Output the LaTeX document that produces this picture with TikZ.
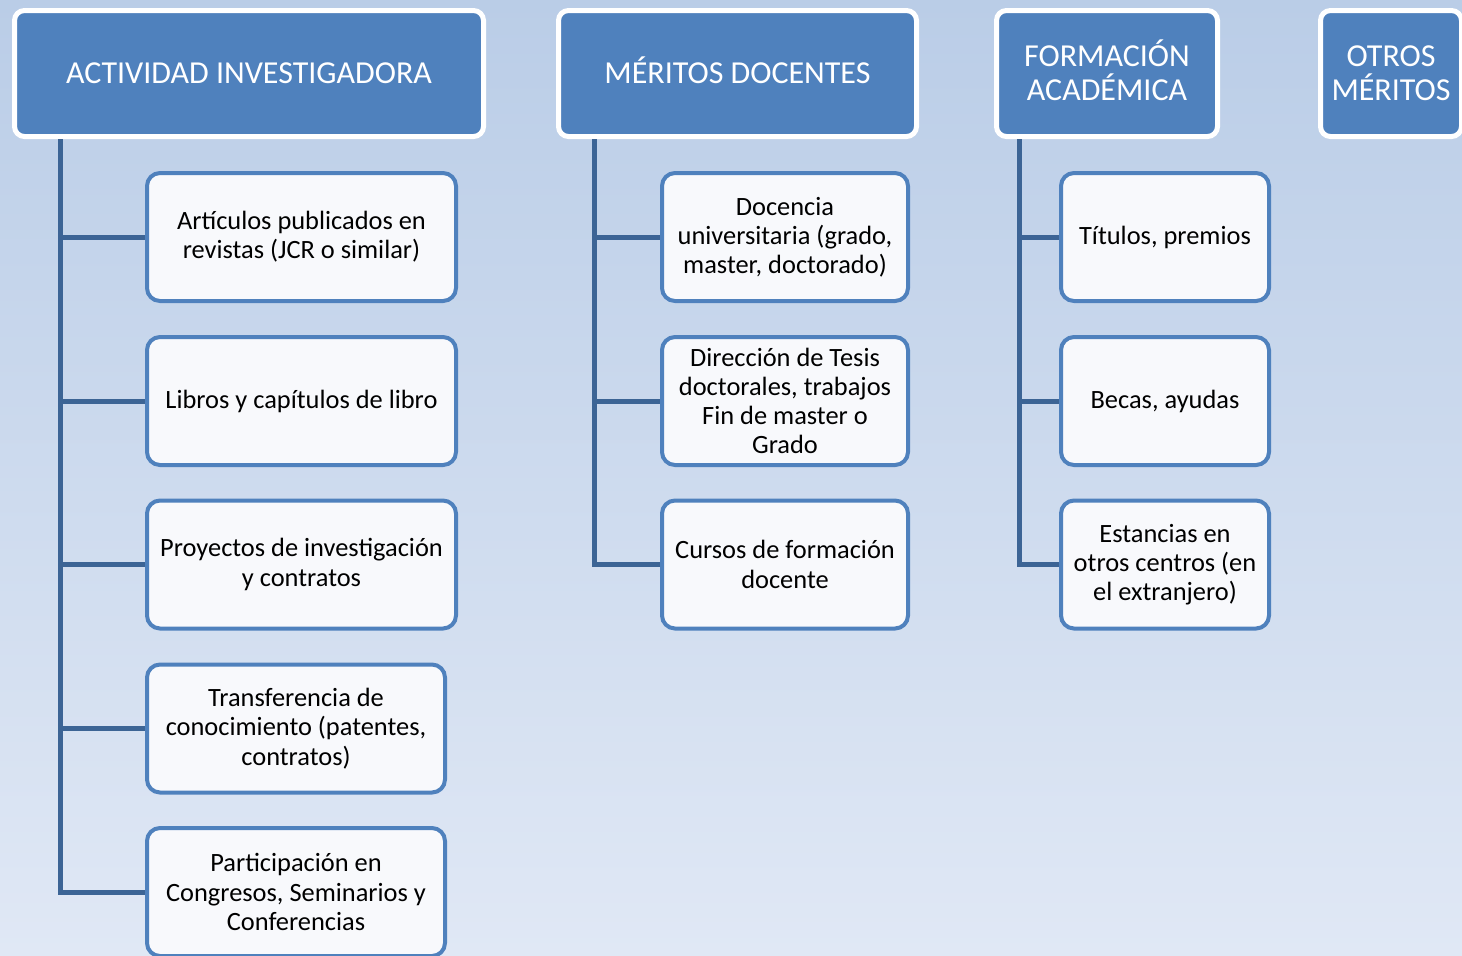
\documentclass[tikz,border=0pt]{standalone}
\usepackage{fontspec}
\setmainfont{Carlito}
\definecolor{hdblue}{HTML}{4F81BD}
\definecolor{lnblue}{HTML}{3C6495}
\definecolor{bgtop}{HTML}{BACDE7}
\definecolor{bgbot}{HTML}{E0E8F5}
\definecolor{itfill}{HTML}{F8F9FC}
\def\lowacc#1#2{\smash{#1}\vphantom{#2}}

\begin{document}
\begin{tikzpicture}[x=0.5pt,y=-0.5pt,
  head/.style={draw=white,line width=2.5pt,fill=hdblue,rounded corners=5pt,text=white,
    font=\fontsize{16}{17}\selectfont,align=center,inner sep=0pt,minimum height=63pt},
  item/.style={draw=hdblue,line width=2pt,fill=itfill,rounded corners=6.5pt,
    font=\fontsize{13.2}{14.6}\selectfont,align=center,inner sep=0pt,minimum height=64pt},
  trunk/.style={draw=lnblue,line width=2.5pt}]
  \useasboundingbox (0,0) rectangle (1462,955);
  \clip (0,0) rectangle (1462,955);
  \shade[top color=bgtop,bottom color=bgbot] (0,0) rectangle (1462,955);
% headers
\node[head,minimum width=234.5pt] (h1) at (249,73.5) {ACTIVIDAD INVESTIGADORA};
\node[head,minimum width=179pt] (h2) at (737.5,73.5) {\lowacc{MÉRITOS DOCENTES}{MERITOS}};
\node[head,minimum width=110.5pt] (h3) at (1107,73.5) {\lowacc{FORMACIÓN}{FORMACION}\\ACADÉMICA};
\node[head,minimum width=70.5pt] (h4) at (1391,73.5) {OTROS\\MÉRITOS};
% first column
\node[item,minimum width=154.5pt] (a1) at (301.5,237) {\lowacc{Artículos}{Articulos} publicados en\\revistas (JCR o similar)};
\node[item,minimum width=154.5pt] (a2) at (301.5,401) {Libros y \lowacc{capítulos}{capitulos} de libro};
\node[item,minimum width=154.5pt] (a3) at (301.5,564.5) {Proyectos de \lowacc{investigación}{investigacion}\\y contratos};
\node[item,minimum width=149pt] (a4) at (296,728.5) {Transferencia de\\conocimiento (patentes,\\contratos)};
\node[item,minimum width=149pt] (a5) at (296,892) {Participación en\\Congresos, Seminarios y\\Conferencias};
% second column
\node[item,minimum width=123pt] (b1) at (785,237) {Docencia\\universitaria (grado,\\master, doctorado)};
\node[item,minimum width=123pt] (b2) at (785,401) {\lowacc{Dirección}{Direccion} de Tesis\\doctorales, trabajos\\Fin de master o\\Grado};
\node[item,minimum width=123pt] (b3) at (785,564.5) {Cursos de formación\\docente};
% third column
\node[item,minimum width=104pt] (c1) at (1165,237) {\lowacc{Títulos}{Titulos}, premios};
\node[item,minimum width=104pt] (c2) at (1165,401) {Becas, ayudas};
\node[item,minimum width=104pt] (c3) at (1165,564.5) {Estancias en\\otros centros (en\\el extranjero)};
% connectors
\coordinate (ta) at (60,139);
\coordinate (tb) at (594,139);
\coordinate (tc) at (1019,139);
\foreach \i in {1,...,5} \draw[trunk] (ta) |- (a\i.west);
\foreach \i in {1,2,3} {
  \draw[trunk] (tb) |- (b\i.west);
  \draw[trunk] (tc) |- (c\i.west);
}
\end{tikzpicture}
\end{document}
